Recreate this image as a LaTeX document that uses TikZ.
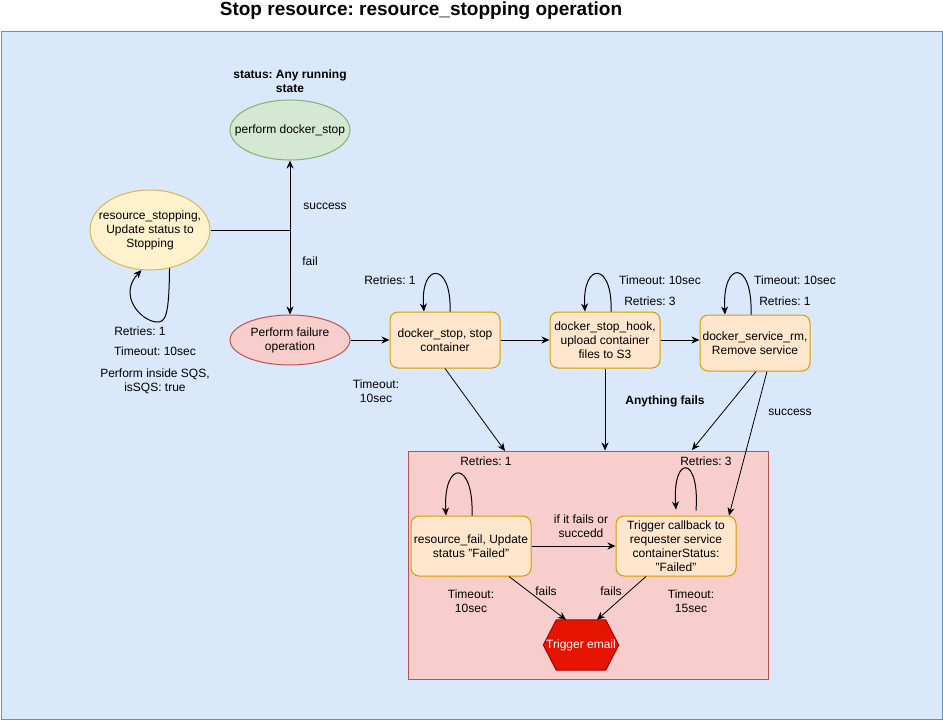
\documentclass[tikz,border=0pt]{standalone}
\usepackage{fontspec}
\setmainfont{Liberation Sans}
\frenchspacing
\usetikzlibrary{shapes.geometric,arrows.meta,calc}
\definecolor{bluefill}{HTML}{DAE8FC}
\definecolor{bluedraw}{HTML}{6C8EBF}
\definecolor{greenfill}{HTML}{D5E8D4}
\definecolor{greendraw}{HTML}{82B366}
\definecolor{yellowfill}{HTML}{FFF2CC}
\definecolor{yellowdraw}{HTML}{D6B656}
\definecolor{redfill}{HTML}{F8CECC}
\definecolor{reddraw}{HTML}{B85450}
\definecolor{boxfill}{HTML}{FFE6CC}
\definecolor{boxdraw}{HTML}{D79B00}
\definecolor{hexfill}{HTML}{E51400}
\definecolor{hexdraw}{HTML}{B20000}
\tikzset{
  base/.style={font=\fontsize{12}{14}\selectfont},
  txt/.style={base, align=center, inner sep=0pt},
  btxt/.style={txt, font=\fontsize{12}{14}\selectfont\bfseries},
  stepbox/.style={rectangle, rounded corners=8pt, draw=boxdraw, fill=boxfill, line width=1pt,
    minimum width=110pt, minimum height=56pt, inner sep=1pt, align=center, base},
  widebox/.style={stepbox, minimum width=120pt, minimum height=60pt},
  oval/.style={ellipse, line width=1pt, inner sep=0pt, minimum width=120pt},
  edge/.style={line width=1pt, -{Stealth[length=8pt,width=7pt,inset=2.5pt]}},
  plainline/.style={line width=1pt},
}
\begin{document}
\frenchspacing
\begin{tikzpicture}[x=1pt,y=-1pt]
\useasboundingbox (0,0) rectangle (943,721);
% title
\node[font=\fontsize{19}{22}\selectfont\bfseries, inner sep=0pt] (title) at (421,11) {Stop resource: resource\_stopping operation};
% outer container
\draw[draw=bluedraw, fill=bluefill, line width=1pt] (1,31) rectangle (942,719);
% failure zone
\node[draw=reddraw, fill=redfill, line width=1pt, minimum width=360pt, minimum height=228pt, inner sep=0pt] (fz) at (588,565) {};

% ellipses
\node[oval, draw=greendraw, fill=greenfill, minimum height=60pt, label={[txt]center:perform docker\_stop}] (green) at (290,130) {};
\node[oval, draw=yellowdraw, fill=yellowfill, minimum height=80pt, label={[txt]center:resource\_stopping,\\Update status to\\Stopping}] (ys) at (150,230) {};
\node[oval, draw=reddraw, fill=redfill, minimum height=50pt, label={[txt]center:Perform failure\\operation}] (red) at (290,340) {};

\node[btxt] (status) at (290,81) {status: Any running\\state};

% boxes
\node[stepbox] (ds) at (445,340) {docker\_stop, stop\\container};
\node[stepbox] (hk) at (605,340) {docker\_stop\_hook,\\upload container\\files to S3};
\node[stepbox] (rm) at (755,343) {docker\_service\_rm,\\Remove service};
\node[widebox] (rf) at (471,546) {resource\_fail, Update\\status "Failed"};
\node[widebox] (cb) at (676,546) {Trigger callback to\\requester service\\containerStatus:\\"Failed"};

% hexagon
\node[minimum width=75pt, minimum height=50pt, inner sep=0pt] (em) at (581,645) {};
\draw[fill=hexfill, draw=hexdraw, line width=1pt] (em.west) -- ($(em.north west)+(13,0)$) -- ($(em.north east)+(-13,0)$) -- (em.east) -- ($(em.south east)+(-13,0)$) -- ($(em.south west)+(13,0)$) -- cycle;
\node[txt, text=white] (emt) at (em.center) {Trigger email};

% trunk
\coordinate (junc) at (290,230);
\draw[plainline] (ys.east) -- (junc);
\draw[edge] (junc) -- (green.south);
\draw[edge] (junc) -- (red.north);
\node[txt] (lsuccess) at (325,206) {success};
\node[txt] (lfail) at (310,261) {fail};

% yellow self loop
\draw[edge] (ys.-63) .. controls (169,315) and (166,323) .. (156,322) .. controls (140,320) and (118,295) .. (ys.-102);
\node[txt] (yr) at (140,331) {Retries: 1};
\node[txt] (yt) at (155,351) {Timeout: 10sec};
\node[txt] (ysqs) at (155,381) {Perform inside SQS,\\isSQS: true};

% main chain
\draw[edge] (red.east) -- (ds.west);
\draw[edge] (ds.east) -- (hk.west);
\draw[edge] (hk.east) -- (hk.east -| rm.west);

% loops over boxes
\draw[edge] ($(ds.north)+(5,0)$) .. controls +(2,-50) and +(-4,-50) .. ($(ds.north)+(-21,0)$);
\draw[edge] ($(hk.north)+(6,0)$) .. controls +(2,-50) and +(-3,-50) .. ($(hk.north)+(-20,0)$);
\draw[edge] ($(rm.north)+(-4,0)$) .. controls +(2,-55) and +(-3,-55) .. ($(rm.north)+(-30,0)$);
\draw[edge] ($(rf.north)+(1,0)$) .. controls +(2,-56) and +(-3,-56) .. ($(rf.north)+(-25,0)$);
\draw[edge] ($(cb.north)+(20,-5)$) .. controls +(4,-56) and +(-4,-55) .. ($(cb.north)+(0,-6)$);

\node[txt] (dsr) at (390,280) {Retries: 1};
\node[txt] (dst) at (376,391) {Timeout:\\10sec};
\node[txt] (hkt) at (660,280) {Timeout: 10sec};
\node[txt] (hkr) at (650,301) {Retries: 3};
\node[txt] (rmt) at (795,280) {Timeout: 10sec};
\node[txt] (rmr) at (785,301) {Retries: 1};

% down to failure zone
\coordinate (a1) at (505,451);
\coordinate (a3) at (692,450);
\draw[edge, line width=0.8pt] (ds.south) -- (a1);
\draw[edge] (hk.south) -- (hk.south |- fz.north);
\draw[edge, line width=0.8pt] ($(rm.south)+(1,0)$) -- (a3);
\draw[edge, line width=0.8pt] ($(rm.south)+(12,0)$) -- ($(cb.north)+(53,0)$);
\node[btxt] (anyf) at (665,401) {Anything fails};
\node[txt] (lsucc2) at (790,412) {success};

% inside failure zone
\node[txt] (rfr) at (486,461) {Retries: 1};
\node[txt] (cbr) at (706,461) {Retries: 3};
\draw[edge] (rf.east) -- (cb.west);
\node[txt] (iff) at (581,526) {if it fails or\\succedd};
\draw[edge, line width=0.8pt] ($(rf.south)+(38,0)$) -- ($(em.north)+(-15,0)$);
\draw[edge, line width=0.8pt] ($(cb.south)+(-30,0)$) -- ($(em.north)+(16,0)$);
\node[txt] (fails1) at (546,591) {fails};
\node[txt] (fails2) at (611,591) {fails};
\node[txt] (rft) at (471,601) {Timeout:\\10sec};
\node[txt] (cbt) at (691,601) {Timeout:\\15sec};
\end{tikzpicture}
\end{document}
